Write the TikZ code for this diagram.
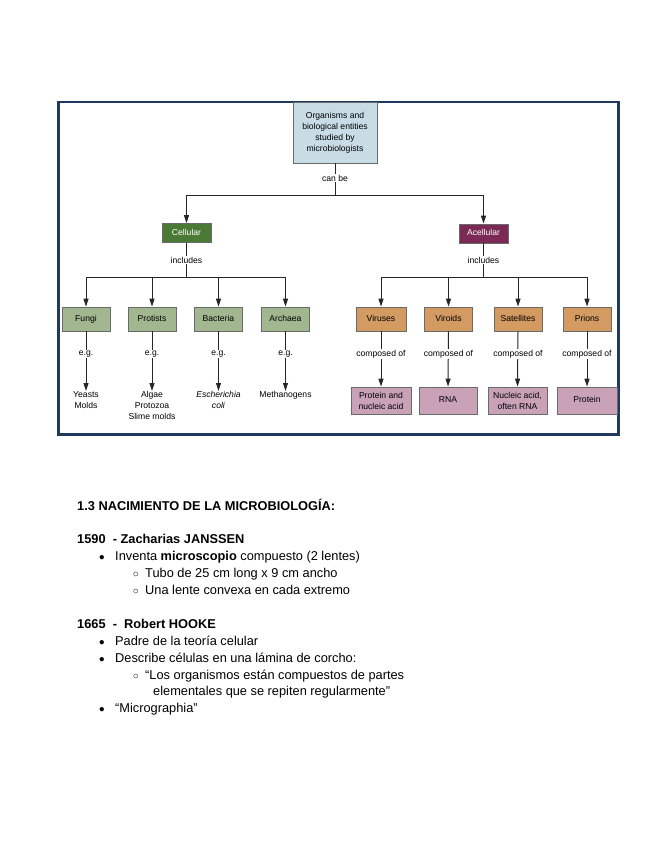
\documentclass[tikz,border=0pt]{standalone}
\usepackage{fontspec}
\setmainfont{Liberation Sans}
\usetikzlibrary{arrows.meta}
\definecolor{frameblue}{HTML}{1F3A5C}
\definecolor{topfill}{HTML}{C8DCE6}
\definecolor{cellfill}{HTML}{4B7A37}
\definecolor{acellfill}{HTML}{7B2A55}
\definecolor{grnfill}{HTML}{A2B790}
\definecolor{orgfill}{HTML}{D39A62}
\definecolor{pinkfill}{HTML}{C9A2B8}
\definecolor{boxline}{HTML}{6A6A6A}
\tikzset{
  dfont/.style={font=\fontsize{8.6}{11}\selectfont},
  box/.style={dfont, draw=boxline, line width=0.8pt, inner sep=0pt, align=center},
  one/.style={text height=6.3pt, text depth=1.8pt},
  lvltwo/.style={box, one, minimum height=19pt, minimum width=49pt, text=white},
  grnbox/.style={box, one, fill=grnfill, minimum height=24pt, minimum width=48pt},
  orgbox/.style={box, one, fill=orgfill, minimum height=24pt, minimum width=48pt},
  pinkbox/.style={box, fill=pinkfill, minimum height=27pt, minimum width=59pt},
  lab/.style={dfont, fill=white, inner sep=1pt},
  leaf/.style={dfont, align=center, inner sep=0pt, anchor=north},
  conn/.style={draw=black!85, line width=1pt},
  arr/.style={conn, -{Triangle[length=8pt,width=5pt]}},
  body/.style={font=\fontsize{12.8}{15}\selectfont, anchor=base west, inner sep=0pt},
  bul/.style={font=\fontsize{10}{12}\selectfont, anchor=base, inner sep=0pt},
}
\begin{document}
\begin{tikzpicture}[x=1pt,y=-1pt]
\useasboundingbox (0,0) rectangle (655,848);
% frame
\draw[frameblue, line width=2.4pt] (58.5,102) rectangle (618.5,434.5);
% nodes
\node[box, fill=topfill, minimum width=84pt, minimum height=61pt] (top) at (335,132.5)
  {Organisms and\\biological entities\\studied by\\microbiologists};
\node[lvltwo, fill=cellfill] (cell) at (186.5,233) {Cellular};
\node[lvltwo, fill=acellfill] (acell) at (483.5,233.5) {Acellular};
\node[grnbox] (fungi) at (86,319) {Fungi};
\node[grnbox] (prot) at (152,319) {Protists};
\node[grnbox] (bact) at (218.5,319) {Bacteria};
\node[grnbox] (arch) at (285.5,319) {Archaea};
\node[orgbox, minimum width=50pt] (vir) at (381,319) {Viruses};
\node[orgbox] (viro) at (448.5,319) {Viroids};
\node[orgbox] (sat) at (518,319) {Satellites};
\node[orgbox] (prio) at (587,319) {Prions};
\node[pinkbox, minimum width=60pt] (pna) at (381,400.5) {Protein and\\nucleic acid};
\node[pinkbox, one, minimum width=58pt] (rna) at (448,400.5) {RNA};
\node[pinkbox] (nuc) at (517.5,400.5) {Nucleic acid,\\often RNA};
\node[pinkbox, one, minimum width=60pt] (pro) at (587,400.5) {Protein};
\node[leaf] (yea) at (86,391) {Yeasts\\Molds};
\node[leaf] (alg) at (152,391) {Algae\\Protozoa\\Slime molds};
\node[leaf] (esc) at (218.5,391) {\textit{Escherichia}\\\textit{coli}};
\node[leaf] (met) at (285.5,391) {Methanogens};
% junctions
\coordinate (j1) at (335,195);
\coordinate (j2) at (186.5,277);
\coordinate (j3) at (483.5,277);
% connectors
\draw[conn] (top.south) -- (j1);
\draw[arr] (j1) -| (cell.north);
\draw[arr] (j1) -| (acell.north);
\draw[conn] (cell.south) -- (j2);
\draw[arr] (j2) -| (fungi.north);
\draw[arr] (j2) -| (prot.north);
\draw[arr] (j2) -| (bact.north);
\draw[arr] (j2) -| (arch.north);
\draw[conn] (acell.south) -- (j3);
\draw[arr] (j3) -| (vir.north);
\draw[arr] (j3) -| (viro.north);
\draw[arr] (j3) -| (sat.north);
\draw[arr] (j3) -| (prio.north);
\draw[arr] (fungi.south) -- (yea.north);
\draw[arr] (prot.south) -- (alg.north);
\draw[arr] (bact.south) -- (esc.north);
\draw[arr] (arch.south) -- (met.north);
\draw[arr] (vir.south) -- (pna.north);
\draw[arr] (viro.south) -- (rna.north);
\draw[arr] (sat.south) -- (nuc.north);
\draw[arr] (prio.south) -- (pro.north);
% labels
\node[lab] (l1) at (335,178) {can be};
\node[lab] (l2) at (186.5,260) {includes};
\node[lab] (l3) at (483.5,260) {includes};
\foreach \x/\n in {86/a,152/b,218.5/c,285.5/d}
  \node[lab] (eg\n) at (\x,354) {e.g.};
\foreach \x/\n in {381/a,448.5/b,518/c,587/d}
  \node[lab] (co\n) at (\x,354) {composed of};
% text section
\node[body] (h) at (77,510) {\textbf{1.3 NACIMIENTO DE LA MICROBIOLOGÍA:}};
\node[body] (y1) at (77,543) {\textbf{1590 \ - Zacharias JANSSEN}};
\node[bul] (b1) at (102,560) {●};
\node[body] (t1) at (115,560) {Inventa \textbf{microscopio} compuesto (2 lentes)};
\node[bul] (b2) at (136,577) {○};
\node[body] (t2) at (145,577) {Tubo de 25 cm long x 9 cm ancho};
\node[bul] (b3) at (136,594) {○};
\node[body] (t3) at (145,594) {Una lente convexa en cada extremo};
\node[body] (y2) at (77,628) {\textbf{1665 \ - \ Robert HOOKE}};
\node[bul] (b4) at (102,645) {●};
\node[body] (t4) at (115,645) {Padre de la teoría celular};
\node[bul] (b5) at (102,662) {●};
\node[body] (t5) at (115,662) {Describe células en una lámina de corcho:};
\node[bul] (b6) at (136,679) {○};
\node[body] (t6) at (145,679) {“Los organismos están compuestos de partes};
\node[body] (t7) at (153,695) {elementales que se repiten regularmente”};
\node[bul] (b7) at (102,712) {●};
\node[body] (t8) at (115,712) {“Micrographia”};
\end{tikzpicture}
\end{document}
